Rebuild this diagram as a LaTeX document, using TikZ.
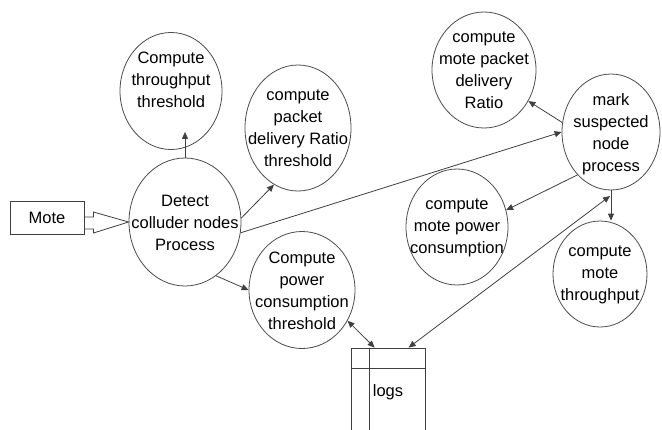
\documentclass[tikz,border=0pt]{standalone}
\usepackage{fontspec}
\setmainfont{Liberation Sans}
\usetikzlibrary{shapes.geometric,arrows.meta,calc}
\begin{document}
\begin{tikzpicture}[x=1pt,y=-1pt,
  ell/.style={ellipse,draw=black!70,line width=0.8pt,inner sep=0pt},
  txt/.style={align=center,font=\fontsize{16.5}{22}\selectfont,text=black,inner sep=0pt},
  con/.style={draw=black!75,line width=0.8pt,-{Triangle[length=7pt,width=6pt]}},
  bicon/.style={draw=black!75,line width=0.8pt,{Triangle[length=7pt,width=6pt]}-{Triangle[length=7pt,width=6pt]}},
  boxline/.style={draw=black!75,line width=0.8pt}
]
\clip (0,0) rectangle (662,429);
\fill[white] (0,0) rectangle (662,429);

% ellipses
\node[ell,minimum width=102pt,minimum height=117pt] (thr) at (171,91) {};
\node[txt] (thrt) at (171,80) {Compute\\throughput\\threshold};

\node[ell,minimum width=106pt,minimum height=126pt] (pdt) at (298,128) {};
\node[txt] (pdtt) at (pdt) {compute\\packet\\delivery Ratio\\threshold};

\node[ell,minimum width=112pt,minimum height=128pt] (det) at (185,222) {};
\node[txt] (dett) at (185,223) {Detect\\colluder nodes\\Process};

\node[ell,minimum width=106pt,minimum height=117pt] (pwt) at (302,290) {};
\node[txt] (pwtt) at (302,291) {Compute\\power\\consumption\\threshold};

\node[ell,minimum width=104pt,minimum height=116pt] (mpdr) at (484,70) {};
\node[txt] (mpdrt) at (mpdr) {compute\\mote packet\\delivery\\Ratio};

\node[ell,minimum width=98pt,minimum height=116pt] (mark) at (611,132) {};
\node[txt] (markt) at (611,134) {mark\\suspected\\node\\process};

\node[ell,minimum width=102pt,minimum height=116pt] (mpc) at (457,227) {};
\node[txt] (mpct) at (457,228) {compute\\mote power\\consumption};

\node[ell,minimum width=94pt,minimum height=106pt] (mthr) at (600,274) {};
\node[txt] (mthrt) at (600,275) {compute\\mote\\throughput};

% Mote box
\node[boxline,minimum width=74pt,minimum height=33pt,inner sep=0pt] (mote) at (47,217.5) {};
\node[txt] (motet) at (mote) {Mote};

% hollow arrow
\draw[boxline,line join=miter]
  ($(mote.east)+(0,-0.5)$) -- ++(9,0) -- ++(0,-5) -- (det.west)
  -- ($(mote.east)+(9,15.5)$) -- ++(0,-4) -- ($(mote.east)+(0,11.5)$);

% logs store
\node[boxline,minimum width=74pt,minimum height=100pt,inner sep=0pt] (logs) at (388,398) {};
\draw[boxline] ($(logs.north west)+(0,21)$) -- ($(logs.north east)+(0,21)$);
\draw[boxline] ($(logs.north west)+(19,0)$) -- ($(logs.south west)+(19,0)$);
\node[txt] (logst) at (388,392) {logs};

% connectors
\draw[con,shorten >=-18pt] (det.north) -- (det.north |- thr.south);
\draw[con] (det.4) -- (pdt.247);
\draw[con] (det.-11) -- (mark.west);
\draw[con] (det.-60) -- (pwt.west);
\draw[con] (mark.169) -- (mpdr.-35);
\draw[con] (mark.232) -- (mpc.19);
\draw[con] (mark.south) -- (mark.south |- mthr.north);
\coordinate (mj) at (610,196);
\draw[bicon] (mj) -- ($(logs.north west)+(58,0)$);
\draw[bicon] (pwt.-34) -- ($(logs.north west)+(24,0)$);
\end{tikzpicture}
\end{document}
